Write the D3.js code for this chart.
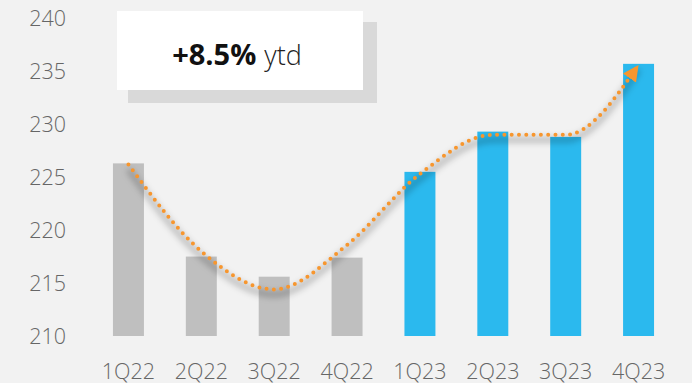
<!DOCTYPE html>
<html><head><meta charset="utf-8">
<script src="https://cdn.jsdelivr.net/npm/d3@7"></script>
<style>
html,body{margin:0;padding:0;background:#F2F2F2;}
svg{display:block;}
</style></head>
<body>
<svg id="chart" width="692" height="383"></svg>
<script>
const categories = ["1Q22","2Q22","3Q22","4Q22","1Q23","2Q23","3Q23","4Q23"];
const values = [226.3, 217.5, 215.6, 217.4, 225.5, 229.3, 228.8, 235.7];
const trend = [226.2, 218.0, 214.4, 218.6, 225.3, 229.0, 229.0, 235.6];
const yTicks = [210, 215, 220, 225, 230, 235, 240];
const highlightFrom = 4;
const headline = "+8.5%";
const headlineSuffix = "ytd";

const svg = d3.select("#chart");
const W = 692, H = 383;
svg.append("rect").attr("width", W).attr("height", H).attr("fill", "#F2F2F2");

const defs = svg.append("defs");
const f = defs.append("filter").attr("id","shadow").attr("x","-10%").attr("y","-30%").attr("width","120%").attr("height","160%");
f.append("feGaussianBlur").attr("stdDeviation", 3);
defs.append("marker").attr("id","arrow").attr("viewBox","0 0 10 10")
  .attr("refX", 10).attr("refY", 5).attr("markerWidth", 4).attr("markerHeight", 4)
  .attr("markerUnits","strokeWidth").attr("orient","auto")
  .append("path").attr("d","M0,0 L10,5 L0,10 Z").attr("fill","#F7962E");

const x = d3.scaleBand().domain(categories).range([92, 675]).paddingInner(0.575).paddingOuter(0.2875);
const y = d3.scaleLinear().domain([210, 240]).range([336, 18.3]);

// y axis labels
svg.append("g").selectAll("text").data(yTicks).join("text")
  .attr("x", 66).attr("y", d => y(d) + 8)
  .attr("text-anchor", "end")
  .attr("font-family", "'Open Sans', 'Noto Sans', sans-serif")
  .attr("font-weight", 300)
  .attr("font-size", 21.5)
  .attr("fill", "#666")
  .text(d => d);

// bars
svg.append("g").selectAll("rect").data(values).join("rect")
  .attr("x", (d,i) => x(categories[i]))
  .attr("width", x.bandwidth())
  .attr("y", d => y(d))
  .attr("height", d => y(210) - y(d))
  .attr("fill", (d,i) => i >= highlightFrom ? "#2BB9EE" : "#BFBFBF");

// x labels
svg.append("g").selectAll("text").data(categories).join("text")
  .attr("x", d => x(d) + x.bandwidth()/2).attr("y", 378.5)
  .attr("text-anchor", "middle")
  .attr("font-family", "'Open Sans', 'Noto Sans', sans-serif")
  .attr("font-weight", 300)
  .attr("font-size", 21.5)
  .attr("fill", "#666")
  .text(d => d);

// trend line
const line = d3.line()
  .x((d,i) => x(categories[i]) + x.bandwidth()/2)
  .y(d => y(d))
  .curve(d3.curveMonotoneX);
svg.append("path").datum(trend)
  .attr("d", line)
  .attr("transform","translate(0,5)")
  .attr("fill","none").attr("stroke","#000").attr("stroke-opacity",0.22)
  .attr("stroke-width",6).attr("filter","url(#shadow)");
svg.append("path").datum(trend)
  .attr("d", line)
  .attr("fill","none").attr("stroke","#F7962E")
  .attr("stroke-width",4).attr("stroke-linecap","round")
  .attr("stroke-dasharray","0 7.3")
  .attr("marker-end","url(#arrow)");

// headline box
svg.append("rect").attr("x",128).attr("y",22).attr("width",249).attr("height",81).attr("fill","#D9D9D9");
svg.append("rect").attr("x",117).attr("y",11).attr("width",246).attr("height",79).attr("fill","#FFFFFF");
const t = svg.append("text").attr("x", 237).attr("y", 65).attr("text-anchor","middle")
  .attr("font-family","'Open Sans', 'Noto Sans', sans-serif");
t.append("tspan").attr("font-weight",700).attr("font-size",29).attr("fill","#111").text(headline);
t.append("tspan").attr("font-weight",300).attr("font-size",27).attr("fill","#222").attr("dx",8).text(headlineSuffix);
</script>
</body></html>
